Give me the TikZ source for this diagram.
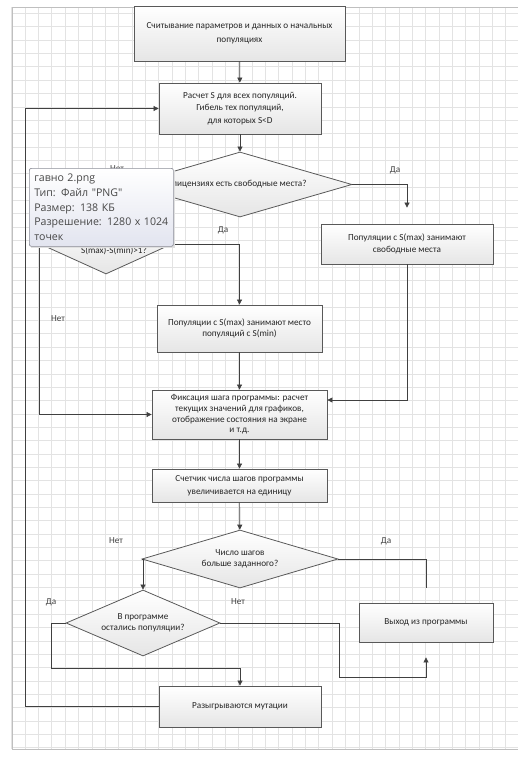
\documentclass[tikz,border=0pt]{standalone}
\usepackage{fontspec}
\setmainfont{Carlito}
\newfontfamily\tipfont{Open Sans}
\usepackage{tikz}
\usetikzlibrary{shapes.geometric,arrows.meta,positioning}
\definecolor{tipbot}{HTML}{E2E4EF}
\definecolor{tipline}{HTML}{8C8E98}

\begin{document}
\begin{tikzpicture}[x=1pt,y=-1pt,
    block/.style={draw=black!65, line width=0.8pt, top color=white, bottom color=black!10,
        align=center, inner sep=2pt, text=black!85, font=\fontsize{9.2}{11.5}\selectfont},
    choice/.style={block, diamond, inner sep=0pt},
    arrow/.style={draw=black!75, line width=0.7pt, -{Triangle[length=5pt,width=5pt]}},
    link/.style={draw=black!75, line width=0.7pt},
    lbl/.style={text=black!75, font=\fontsize{9.2}{10}\selectfont},
    gridline/.style={draw=black!11, line width=0.6pt}]
    \useasboundingbox (0,0) rectangle (518,760);

    % Grid paper
    \foreach \i in {0,...,37}
        \draw[gridline] ({11.7+13.35*\i},7) -- ({11.7+13.35*\i},749);
    \foreach \j in {1,...,56}
        \draw[gridline] (12,{13.35*\j}) -- (518,{13.35*\j});
    \draw[black!25, line width=0.8pt] (518,7) -- (12,7) -- (12,749) -- (518,749);

    % Blocks
    \node[block, minimum width=211, minimum height=55, font=\fontsize{9.2}{14.5}\selectfont] (read) at (239.5,33.5)
        {Считывание параметров и данных о начальных\\популяциях};
    \node[block, minimum width=162, minimum height=51, font=\fontsize{9.2}{12.5}\selectfont] (calc) at (240,108.5)
        {Расчет S для всех популяций.\\Гибель тех популяций,\\для которых S<D};
    \node[choice, minimum width=224, minimum height=65, shape aspect=3.4] (free) at (240,184.5)
        {\hspace*{-8pt}В лицензиях есть свободные места?};
    \node[block, minimum width=172, minimum height=40] (occupy) at (407,244)
        {Популяции с S(max) занимают\\свободные места};
    \node[choice, minimum width=132, minimum height=60, shape aspect=2.2] (diff) at (106,244)
        {\raisebox{-6pt}[\height][0pt]{\hspace*{16pt}S(max)-S(min)>1?}};
    \node[block, minimum width=165, minimum height=47] (replace) at (239.5,328.5)
        {Популяции с S(max) занимают место\\популяций с S(min)};
    \node[block, minimum width=175, minimum height=49, font=\fontsize{9.2}{10.7}\selectfont] (fix) at (239.5,414.5)
        {Фиксация шага программы: расчет\\текущих значений для графиков,\\отображение состояния на экране\\и т.д.};
    \node[block, minimum width=175, minimum height=33, font=\fontsize{9.2}{13}\selectfont] (count) at (239.5,485.5)
        {Счетчик числа шагов программы\\увеличивается на единицу};
    \node[choice, minimum width=196, minimum height=58, shape aspect=3.4] (steps) at (240,559)
        {Число шагов\\больше заданного?};
    \node[choice, minimum width=154, minimum height=66, shape aspect=2.3] (left) at (143,623)
        {В программе\\остались популяции?};
    \node[block, minimum width=134, minimum height=39] (exit) at (426,622.5)
        {Выход из программы};
    \node[block, minimum width=162, minimum height=41] (mutate) at (240,706.5)
        {Разыгрываются мутации};

    % Connectors
    \draw[arrow] (read) -- (calc);
    \draw[arrow] (calc) -- (free);
    \draw[arrow, shorten >=16pt] (free.east) -| (occupy.north);
    \draw[arrow] (occupy.south) |- ([yshift=14.5pt]fix.east);
    \draw[arrow] (free.west) -| (diff.north);
    \draw[arrow] (diff.east) -| (replace.north);
    \draw[arrow] (diff.west) |- (fix.west);
    \draw[arrow] (replace) -- (fix);
    \draw[arrow] (fix) -- (count);
    \draw[arrow] (count) -- (steps);
    \draw[arrow] (steps.west) -| (left.north);
    \draw[link, shorten >=15pt] (steps.east) -| (exit.north);
    \draw[arrow] (left.west) -- ++(-14,0) |- ([yshift=17pt]mutate.north) -- (mutate.north);
    \draw[arrow] (left.east) -- ++(119,0) |- ([yshift=-35pt]exit.south) -- ([yshift=-15pt]exit.south);
    \draw[arrow] (mutate.west) -- ++(-133,0) |- (calc.west);

    % Branch labels
    \node[lbl] (free-no) at (117,169) {Нет};
    \node[lbl] (free-yes) at (395,170) {Да};
    \node[lbl] (diff-yes) at (223,230) {Да};
    \node[lbl] (diff-no) at (58,319) {Нет};
    \node[lbl] (steps-no) at (116,541) {Нет};
    \node[lbl] (steps-yes) at (386,541) {Да};
    \node[lbl] (left-yes) at (51,602) {Да};
    \node[lbl] (left-no) at (238,602) {Нет};

    % File tooltip
    \fill[black!12] (30.5,169.5) rectangle (174.5,247.5);
    \node[draw=tipline, line width=0.7pt, rounded corners=2pt, top color=white, bottom color=tipbot,
        minimum width=144, minimum height=78, anchor=north west, inner xsep=5pt, inner ysep=0pt,
        text width=134pt, align=left, text=black!72, font=\tipfont\fontsize{10.6}{14.7}\selectfont] (tip) at (29,168)
        {гавно 2.png\\Тип: Файл "PNG"\\Размер: 138 КБ\\Разрешение: 1280 x 1024\\точек};
\end{tikzpicture}
\end{document}
